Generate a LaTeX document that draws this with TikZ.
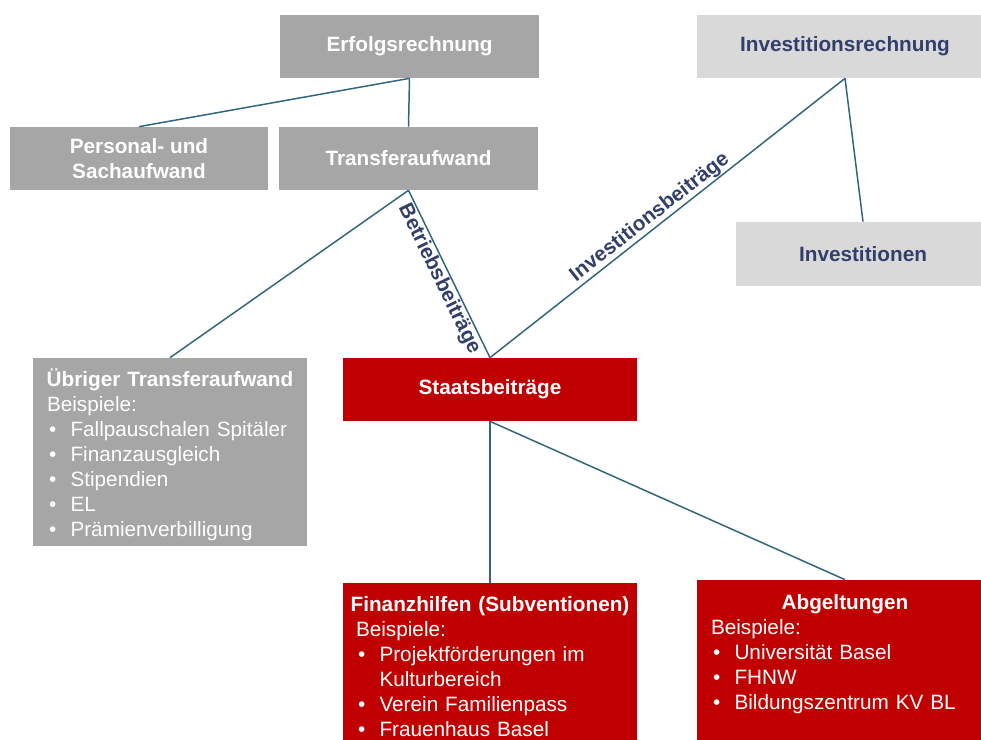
\documentclass[tikz,border=0pt]{standalone}
\usepackage{fontspec}
\setmainfont{Liberation Sans}
\usepackage{tikz}
\usepackage{xcolor}
\usetikzlibrary{positioning}

\definecolor{boxgrey}{HTML}{A6A6A6}
\definecolor{boxlight}{HTML}{D9D9D9}
\definecolor{boxred}{HTML}{C00000}
\definecolor{linkteal}{HTML}{31677D}
\definecolor{textnavy}{HTML}{333F6B}

\newcommand{\diafont}{\fontsize{11.8}{14.23}\selectfont}
\newcommand{\listbul}[1]{\makebox[0.47cm][l]{\hspace{0.04cm}•}#1}
\newcommand{\listhead}[1]{\rule{0pt}{12pt}\makebox[\linewidth][c]{\bfseries #1}}

\begin{document}
\begin{tikzpicture}[
    x=0.02cm, y=-0.02cm,
    greybox/.style={rectangle, fill=boxgrey, text=white, font=\diafont\bfseries, align=center, inner sep=0pt},
    lightbox/.style={rectangle, fill=boxlight, text=textnavy, font=\diafont\bfseries, align=center, inner sep=0pt},
    redbox/.style={rectangle, fill=boxred, text=white, font=\diafont\bfseries, align=center, inner sep=0pt},
    listtxt/.style={text=white, font=\diafont, align=left, inner sep=0pt, anchor=north west},
    link/.style={draw=linkteal, line width=0.85pt},
    lbl/.style={text=textnavy, font=\diafont\bfseries, sloped, inner sep=0.5pt}
]
\useasboundingbox (0,0) rectangle (981,740);
\clip (0,0) rectangle (981,740);

% Top row
\node[greybox, minimum width=5.18cm, minimum height=1.26cm] (erfolg) at (409.5,46.5) {Erfolgsrechnung};
\node[lightbox, minimum width=5.92cm, minimum height=1.26cm] (invrech) at (845,46.5) {Investitionsrechnung};

% Second row
\node[greybox, minimum width=5.16cm, minimum height=1.26cm] (personal) at (139,158.5) {Personal- und\\Sachaufwand};
\node[greybox, minimum width=5.18cm, minimum height=1.26cm] (transfer) at (408.5,158.5) {Transferaufwand};
\node[lightbox, minimum width=5.08cm, minimum height=1.28cm] (invest) at (863,254) {Investitionen};

% Middle row
\node[greybox, minimum width=5.48cm, minimum height=3.76cm] (uebrig) at (170,452) {};
\node[listtxt, text width=4.92cm] (uebrigtxt) at ([xshift=0.28cm, yshift=-0.14cm]uebrig.north west)
  {\listhead{Übriger Transferaufwand}\\
   Beispiele:\\
   \listbul{Fallpauschalen Spitäler}\\
   \listbul{Finanzausgleich}\\
   \listbul{Stipendien}\\
   \listbul{EL}\\
   \listbul{Prämienverbilligung}};
\node[redbox, minimum width=5.88cm, minimum height=1.26cm] (staats) at (490,389.5) {Staatsbeiträge};

% Bottom row
\node[redbox, minimum width=5.88cm, minimum height=3.6cm] (finanz) at (490,673) {};
\node[listtxt, text width=5.36cm] (finanztxt) at ([xshift=0.26cm, yshift=-0.15cm]finanz.north west)
  {\listhead{Finanzhilfen (Subventionen)}\\
   Beispiele:\\
   \listbul{Projektförderungen im}\\
   \hspace*{0.47cm}Kulturbereich\\
   \listbul{Verein Familienpass}\\
   \listbul{Frauenhaus Basel}};
\node[redbox, minimum width=5.92cm, minimum height=3.6cm] (abgelt) at (845,670) {};
\node[listtxt, text width=5.36cm] (abgelttxt) at ([xshift=0.28cm, yshift=-0.17cm]abgelt.north west)
  {\listhead{Abgeltungen}\\
   Beispiele:\\
   \listbul{Universität Basel}\\
   \listbul{FHNW}\\
   \listbul{Bildungszentrum KV BL}};

% Connectors
\draw[link] (erfolg.south) -- (personal.north);
\draw[link] (erfolg.south) -- (transfer.north);
\draw[link] (transfer.south) -- (uebrig.north);
\draw[link] (transfer.south) -- node[lbl, below, pos=0.5] (betrieb) {Betriebsbeiträge} (staats.north);
\draw[link] (staats.north) -- node[lbl, above, pos=0.47] (invbeitr) {Investitionsbeiträge} (invrech.south);
\draw[link] (invrech.south) -- (invest.north);
\draw[link] (staats.south) -- (finanz.north);
\draw[link] (staats.south) -- (abgelt.north);

\end{tikzpicture}
\end{document}
